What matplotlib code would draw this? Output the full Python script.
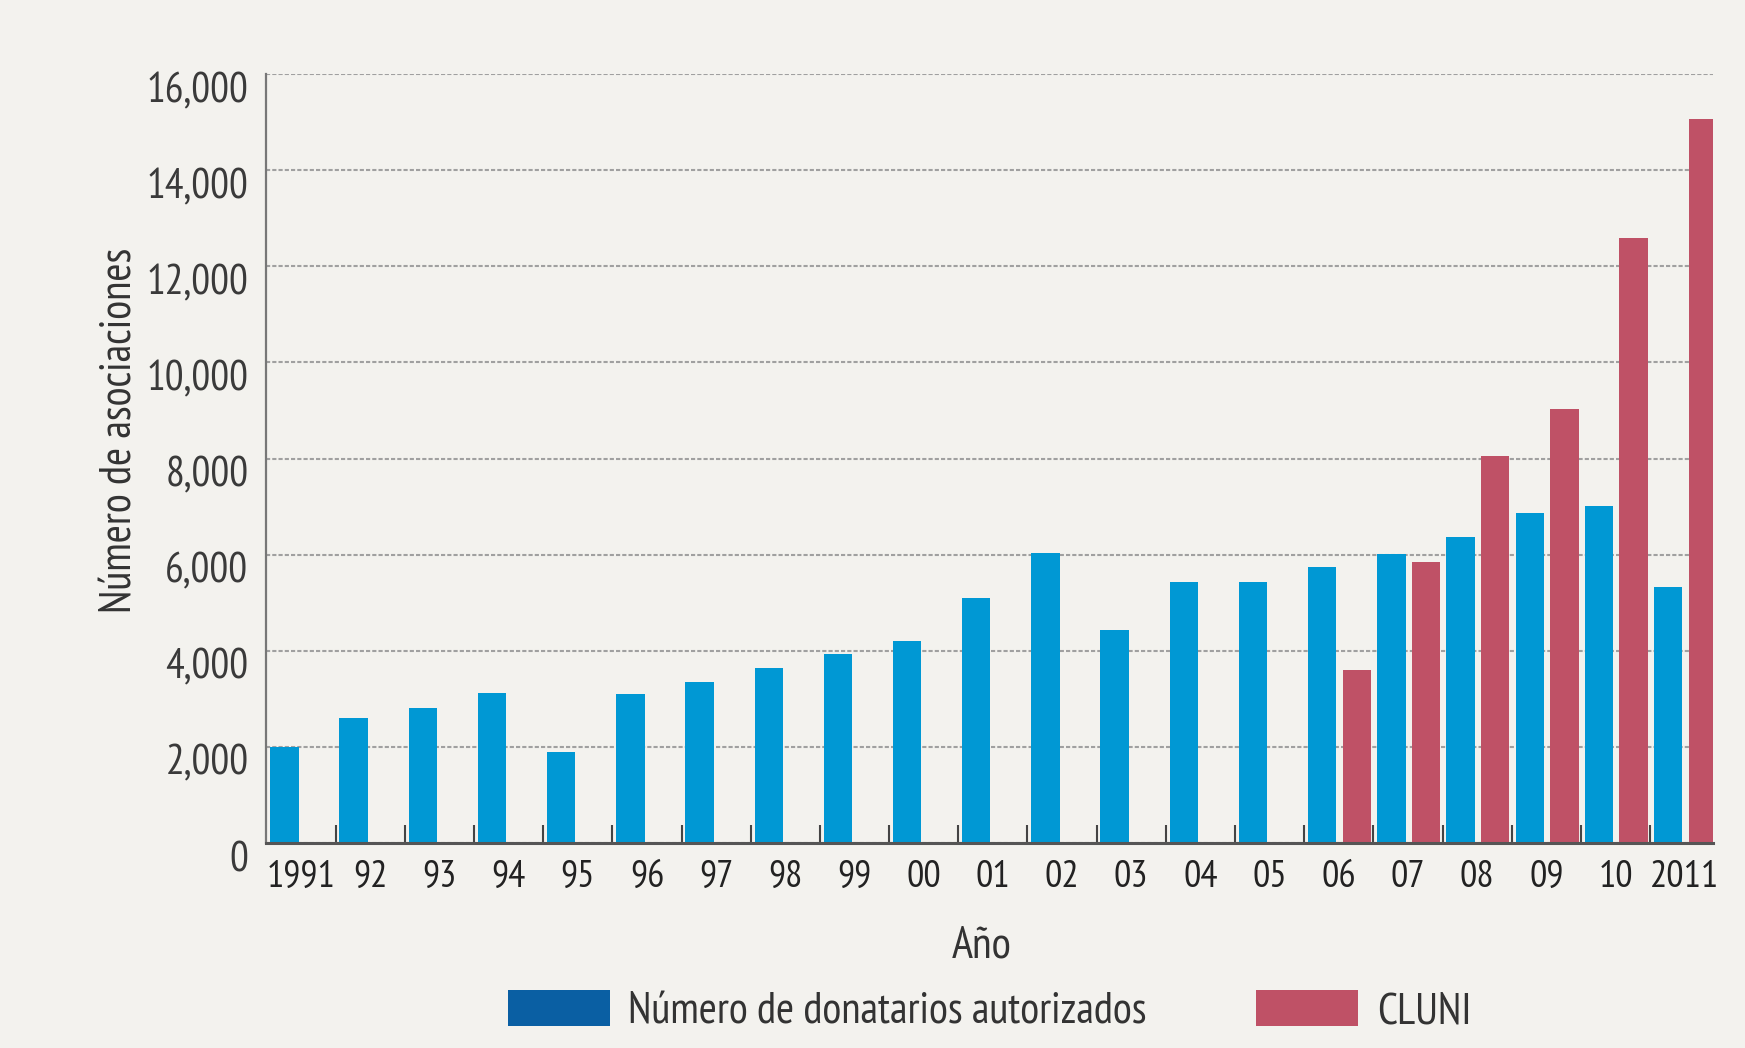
import numpy as np
import matplotlib
matplotlib.use('Agg')
import matplotlib.pyplot as plt
from matplotlib.patches import Patch
from matplotlib.transforms import ScaledTranslation

plt.rcParams['font.family'] = ['PT Sans Narrow', 'DejaVu Sans']

# Data
years = ['1991', '92', '93', '94', '95', '96', '97', '98', '99', '00', '01',
         '02', '03', '04', '05', '06', '07', '08', '09', '10', '2011']
donatarios = [2000, 2600, 2800, 3130, 1900, 3090, 3360, 3640, 3940, 4200, 5100,
              6030, 4430, 5430, 5440, 5750, 6010, 6360, 6860, 7010, 5320]
cluni = [0, 0, 0, 0, 0, 0, 0, 0, 0, 0, 0,
         0, 0, 0, 0, 3590, 5850, 8050, 9040, 12590, 15060]

bg = '#f3f2ee'
blue = '#0098d4'
red = '#bf5166'

fig = plt.figure(figsize=(17.45, 10.48), dpi=100, facecolor=bg)
ax = fig.add_axes([0.1527, 0.1956, 0.9817 - 0.1527, 0.9294 - 0.1956])
ax.set_facecolor(bg)

x = np.arange(len(years))
cl = np.array(cluni, dtype=float)
ax.bar(x + 0.26, donatarios, width=0.41, color=blue, zorder=3)
mask = cl > 0
ax.bar(x[mask] + 0.76, cl[mask], width=0.41, color=red, zorder=3)

ax.set_xlim(0, 20.91)
ax.set_ylim(0, 16000)

# grid
yt = np.arange(0, 16001, 2000)
ax.set_yticks(yt)
ax.set_yticklabels(['0' if v == 0 else f'{v:,}' for v in yt], fontsize=30, color='#3a3a3a')
ax.yaxis.grid(True, color='#a0a0a0', linestyle=(0, (2, 1)), linewidth=1.5, zorder=1)
ax.tick_params(axis='y', length=0, pad=13)
off = ScaledTranslation(0, -13 / 100, fig.dpi_scale_trans)
for lbl in ax.get_yticklabels():
    lbl.set_transform(lbl.get_transform() + off)

# x ticks: labels at group centres, small marks at group boundaries
ax.set_xticks(x + 0.5)
ax.set_xticklabels(years, fontsize=27.5, color='#222222')
ax.tick_params(axis='x', which='major', length=0, pad=12)
ax.set_xticks(np.arange(1, 21), minor=True)
ax.tick_params(axis='x', which='minor', direction='in', length=13, width=1.5, color='#444444')

for s in ['top', 'right']:
    ax.spines[s].set_visible(False)
ax.spines['left'].set_color('#777777')
ax.spines['left'].set_linewidth(1.6)
ax.spines['bottom'].set_color('#555555')
ax.spines['bottom'].set_linewidth(2.2)
ax.spines['bottom'].set_zorder(4)

ax.set_ylabel('Número de asociaciones', fontsize=31.5, color='#333333')
ax.yaxis.set_label_coords(-0.087, 0.536)
ax.set_xlabel('Año', fontsize=32, color='#333333')
ax.xaxis.set_label_coords(0.4945, -0.108)

handles = [Patch(facecolor='#0a5fa3', edgecolor='none'), Patch(facecolor=red, edgecolor='none')]
fig.legend(handles, ['Número de donatarios autorizados', 'CLUNI'], loc='center',
           bbox_to_anchor=(0.567, 0.035), ncol=2, frameon=False, fontsize=31.5,
           handlelength=2.33, handleheight=0.89, handletextpad=0.43,
           columnspacing=2.49, borderpad=0, labelcolor='#333333')

fig.savefig('out.png', dpi=100, facecolor=bg)
